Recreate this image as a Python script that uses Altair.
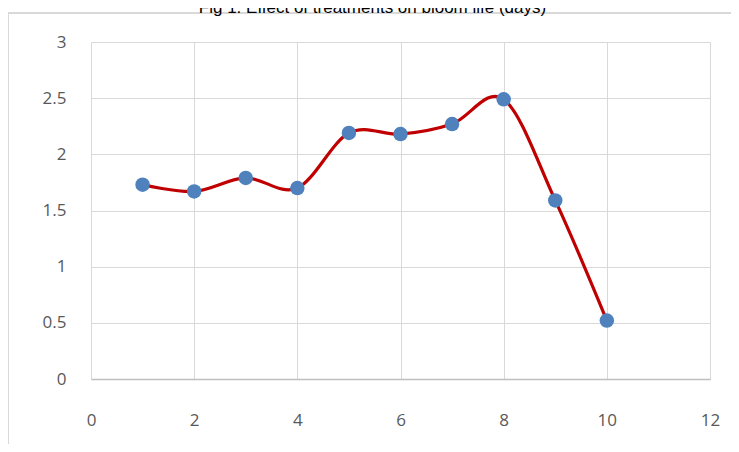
import altair as alt
import pandas as pd

treatment = [1, 2, 3, 4, 5, 6, 7, 8, 9, 10]
bloom_life = [1.73, 1.67, 1.79, 1.70, 2.19, 2.18, 2.27, 2.49, 1.59, 0.52]
x_ticks = [0, 2, 4, 6, 8, 10, 12]
y_ticks = [0, 0.5, 1, 1.5, 2, 2.5, 3]
title_text = "Fig 1: Effect of treatments on bloom life (days)"

df = pd.DataFrame({"x": treatment, "y": bloom_life})

xs = alt.X("x:Q", scale=alt.Scale(domain=[0, 12], nice=False, zero=False),
           axis=alt.Axis(values=x_ticks, title=None, ticks=False, domain=True,
                         domainColor="#bfbfbf", domainWidth=1.5, labelFlush=False,
                         gridColor="#d9d9d9", labelPadding=33,
                         labelFont="Open Sans", labelFontSize=17, labelColor="#595959"))
ys = alt.Y("y:Q", scale=alt.Scale(domain=[0, 3], nice=False),
           axis=alt.Axis(values=y_ticks, title=None, ticks=False, domain=False,
                         format=".1~f", gridColor="#d9d9d9", labelPadding=25, labelFlush=False,
                         labelFont="Open Sans", labelFontSize=17, labelColor="#595959"))

base = alt.Chart(df)

line = base.mark_line(interpolate="cardinal", color="#c00000", strokeWidth=3.2).encode(x=xs, y=ys)
pts = base.mark_point(filled=True, size=210, color="#4f81bd", opacity=1).encode(x=xs, y=ys)

border_top = alt.Chart(pd.DataFrame({"a": [0]})).mark_rule(color="#d9d9d9", strokeWidth=2).encode(
    x=alt.value(-83), x2=alt.value(660), y=alt.value(-29))
border_left = alt.Chart(pd.DataFrame({"a": [0]})).mark_rule(color="#d9d9d9", strokeWidth=2).encode(
    x=alt.value(-83), y=alt.value(-29), y2=alt.value(420))

chart = alt.layer(border_top, border_left, line, pts).properties(
    width=619, height=337,
    autosize=alt.AutoSizeParams(type="none"),
    padding={"left": 83, "top": 34, "right": 21, "bottom": 65},
    title=alt.TitleParams(title_text, font="Liberation Sans", fontSize=17, fontWeight="normal",
                          color="#000000", anchor="middle", dx=-28, offset=-5),
).configure_view(stroke=None)

chart.save("out.html", embed_options={"renderer": "svg", "actions": False})
